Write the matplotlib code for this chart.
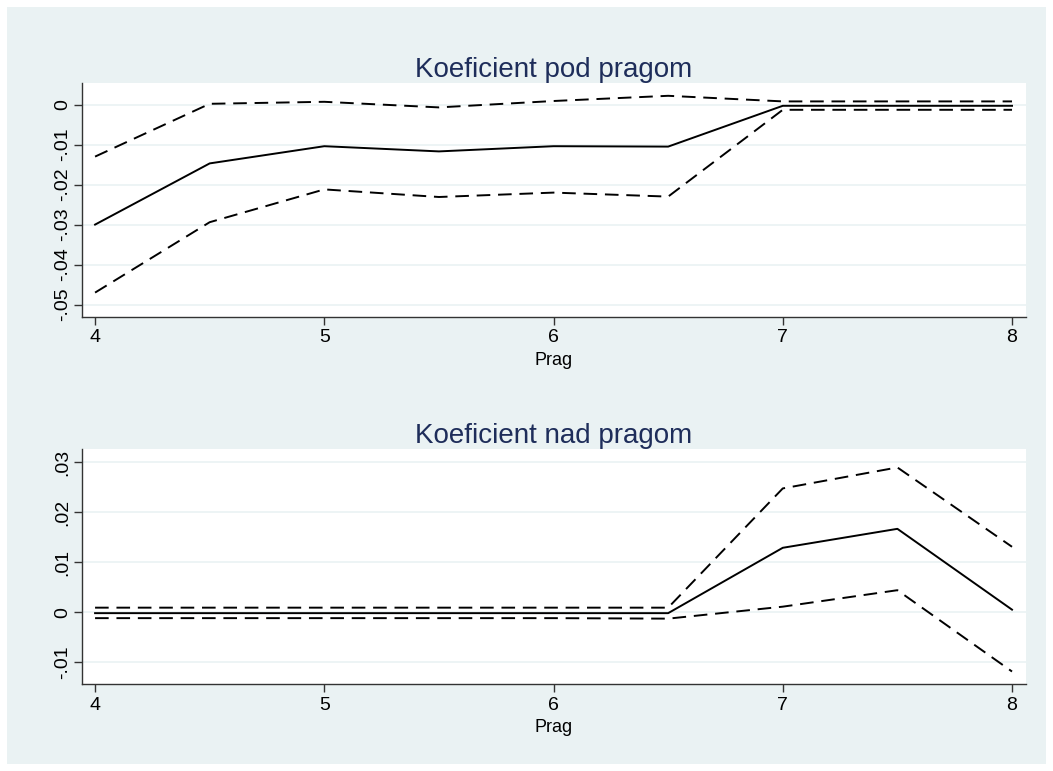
import matplotlib
matplotlib.use("Agg")
import matplotlib.pyplot as plt
from matplotlib.patches import Rectangle

plt.rcParams['font.family'] = ['Liberation Sans', 'DejaVu Sans']

# threshold values (Prag)
prag = [4, 4.5, 5, 5.5, 6, 6.5, 7, 7.5, 8]

# coefficient below threshold
pod_coef = [-0.030, -0.0147, -0.0104, -0.0117, -0.0104, -0.0105, -0.0003, -0.0003, -0.0003]
pod_upper = [-0.013, 0.0002, 0.0007, -0.0007, 0.0009, 0.0022, 0.0008, 0.0008, 0.0008]
pod_lower = [-0.047, -0.0294, -0.0212, -0.0231, -0.0220, -0.0230, -0.0013, -0.0013, -0.0013]

# coefficient above threshold
nad_coef = [-0.0002, -0.0002, -0.0002, -0.0002, -0.0002, -0.0002, 0.0129, 0.0167, 0.0005]
nad_upper = [0.0009, 0.0009, 0.0009, 0.0009, 0.0009, 0.0009, 0.0248, 0.0290, 0.0131]
nad_lower = [-0.0012, -0.0012, -0.0012, -0.0012, -0.0012, -0.0013, 0.0011, 0.0044, -0.0119]

top_ticks = [0, -0.01, -0.02, -0.03, -0.04, -0.05]
top_labels = ['0', '-.01', '-.02', '-.03', '-.04', '-.05']
bot_ticks = [-0.01, 0, 0.01, 0.02, 0.03]
bot_labels = ['-.01', '0', '.01', '.02', '.03']

W, H = 1053, 771
bg = '#eaf2f3'
fig = plt.figure(figsize=(W / 100, H / 100), dpi=100)
fig.patch.set_facecolor('white')
fig.patches.append(Rectangle((7 / W, 7 / H), (W - 14) / W, (H - 14) / H,
                             transform=fig.transFigure, facecolor=bg,
                             edgecolor='none', zorder=-10))


def panel(rect, title, coef, upper, lower, ylim, ticks, labels):
    x0, y0, x1, y1 = rect
    ax = fig.add_axes([x0 / W, 1 - y1 / H, (x1 - x0) / W, (y1 - y0) / H])
    ax.set_facecolor('white')
    ax.plot(prag, coef, color='black', lw=1.4)
    ax.plot(prag, upper, color='black', lw=1.4, dashes=(7, 4))
    ax.plot(prag, lower, color='black', lw=1.4, dashes=(7, 4))
    ax.set_xlim(3.943, 8.061)
    ax.set_ylim(*ylim)
    ax.set_xticks([4, 5, 6, 7, 8])
    ax.set_yticks(ticks)
    ax.set_yticklabels(labels, rotation=90, va='center')
    ax.grid(axis='y', color=bg, lw=1.2)
    ax.set_axisbelow(True)
    for s in ['top', 'right']:
        ax.spines[s].set_visible(False)
    for s in ['left', 'bottom']:
        ax.spines[s].set_color('#333333')
        ax.spines[s].set_linewidth(1.0)
    ax.tick_params(direction='out', length=6, width=1, colors='#333333',
                   labelcolor='black', labelsize=14)
    ax.tick_params(axis='x', pad=3)
    ax.tick_params(axis='y', pad=2)
    ax.set_xlabel('Prag', fontsize=13, labelpad=4)
    ax.set_title(title, fontsize=20, color='#1e2d5a', pad=4)
    return ax


panel((82, 83, 1026, 317), 'Koeficient pod pragom', pod_coef, pod_upper, pod_lower,
      (-0.0531, 0.0054), top_ticks, top_labels)
panel((82, 449, 1026, 684), 'Koeficient nad pragom', nad_coef, nad_upper, nad_lower,
      (-0.0144, 0.0327), bot_ticks, bot_labels)

fig.savefig('out.png', dpi=100)
